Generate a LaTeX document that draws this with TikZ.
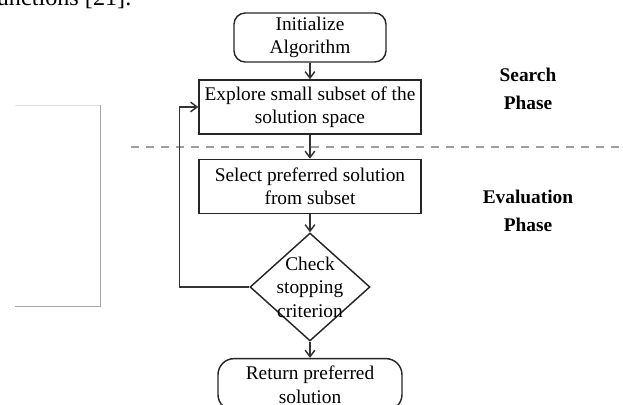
\documentclass[tikz,border=0pt]{standalone}
\usepackage{fontspec}
\setmainfont{Liberation Serif}
\usepackage{tikz}
\usetikzlibrary{
	arrows.meta,
	shapes.geometric,
	positioning
}

\begin{document}
\begin{tikzpicture}[scale=1,
		font=\fontsize{12}{14.5}\selectfont,
		box/.style={draw=black!85, line width=0.9pt, align=center, inner sep=0pt,
			minimum width=4.837cm, minimum height=1.177cm},
		terminal/.style={box, rounded corners=7pt},
		decision/.style={draw=black!85, line width=0.9pt, diamond, inner sep=0pt,
			minimum width=2.614cm, minimum height=2.353cm},
		phase/.style={font=\fontsize{12}{17}\selectfont\bfseries, align=center},
		flow/.style={-{Straight Barb[length=4pt, width=6pt]}, line width=0.9pt, draw=black!80}]
		\clip (0,0) rectangle (13.574,-8.824);
		% 上方正文残行
		\node[anchor=base east, font=\fontsize{15}{18}\selectfont] (cite) at (2.985,-0.12) {functions [21].};
		% 左侧灰框
		\draw[gray!25, line width=0.5pt] (0.327,-2.288)--(2.179,-2.288);
		\draw[gray!70, line width=0.6pt] (2.179,-2.288)--(2.179,-6.667)--(0.327,-6.667);
		% 流程框
		\node[terminal, minimum width=3.312cm, minimum height=1.068cm] (init) at (6.754,-0.817) {Initialize\\Algorithm};
		\node[box] (explore) at (6.754,-2.331) {Explore small subset of the\\solution space};
		\node[box] (select) at (6.754,-4.063) {Select preferred solution\\from subset};
		\node[decision] (check) at (6.754,-6.253) {};
		\node[align=center] (checktext) at (check) {Check\\stopping\\criterion};
		\node[terminal, rounded corners=10pt, minimum width=4.009cm, minimum height=1.133cm] (ret) at (6.754,-8.38) {Return preferred\\solution};
		% 阶段分隔线
		\coordinate (L) at (2.854,-3.203);
		\coordinate (R) at (13.8,-3.203);
		\draw[gray!75, line width=1.8pt, dash pattern=on 5pt off 4.3pt] (L)--(R);
		% 连线
		\draw[flow] (init)--(explore);
		\draw[flow] (explore)--(select);
		\draw[flow] (select)--(check);
		\draw[flow] (check)--(ret);
		\draw[flow] (check.west)--++(-1.525,0) |- (explore.west);
		% 阶段标注
		\node[phase] (search) at (11.504,-1.939) {Search\\Phase};
		\node[phase] (evaluation) at (11.504,-4.597) {Evaluation\\Phase};
	\end{tikzpicture}
\end{document}
